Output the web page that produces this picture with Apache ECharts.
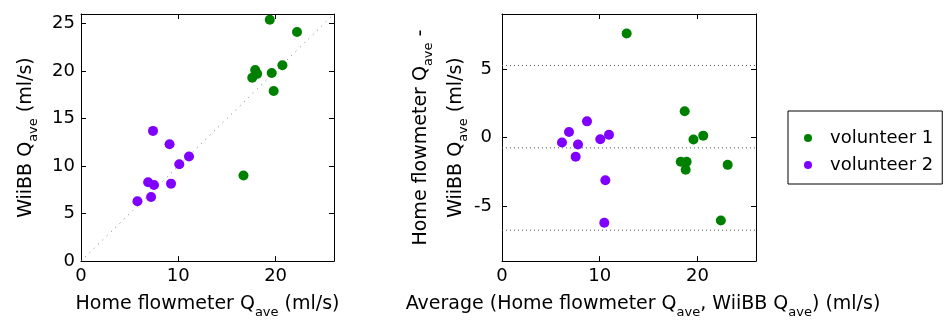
<!DOCTYPE html>
<html><head><meta charset="utf-8">
<script src="https://cdn.jsdelivr.net/npm/echarts@6/dist/echarts.min.js"></script>
<style>html,body{margin:0;padding:0;background:#fff}#c{width:944px;height:324px}</style>
</head><body><div id="c"></div>
<script>
// ---- data ----
const vol1Home  = [19.4, 22.2, 20.7, 17.9, 18.1, 17.6, 19.6, 19.8, 16.7];
const vol1WiiBB = [25.4, 24.1, 20.6, 20.1, 19.7, 19.3, 19.8, 17.9, 9.0];
const vol2Home  = [7.4, 9.1, 11.1, 10.1, 6.9, 7.5, 9.25, 7.2, 5.8];
const vol2WiiBB = [13.7, 12.3, 11.0, 10.2, 8.3, 8.0, 8.15, 6.75, 6.3];
const vol1Avg   = [12.76, 18.7, 19.6, 20.6, 18.3, 18.9, 18.8, 23.1, 22.4];
const vol1Diff  = [7.58, 1.92, -0.14, 0.14, -1.76, -1.76, -2.35, -1.99, -6.04];
const vol2Avg   = [6.14, 6.86, 7.54, 7.78, 8.7, 10.06, 10.95, 10.58, 10.47];
const vol2Diff  = [-0.36, 0.40, -1.40, -0.50, 1.18, -0.12, 0.21, -3.11, -6.21];
const meanDiff = -0.75, upperLoA = 5.25, lowerLoA = -6.75;
const identityLine = [[0, 0], [26, 26]];
const seriesNames = ['volunteer 1', 'volunteer 2'];
const xTicks = [0, 10, 20];
const yTicksLeft = [0, 5, 10, 15, 20, 25];
const yTicksRight = [-5, 0, 5];
const xRange = [0, 26], yRangeLeft = [0, 26], yRangeRight = [-9, 9];

const FONT = 'DejaVu Sans';
const GREEN = '#008000', PURPLE = '#8000ff';
const rich = {
  m: {fontSize: 19, fontFamily: FONT, color: '#000', lineHeight: 22},
  s: {fontSize: 13, fontFamily: FONT, color: '#000', lineHeight: 14, padding: [16, 0, 0, 0]}
};
const rich2 = {
  m: {fontSize: 19, fontFamily: FONT, color: '#000', lineHeight: 35},
  s: {fontSize: 13, fontFamily: FONT, color: '#000', lineHeight: 14, padding: [16, 0, 0, 0]}
};
function zip(a, b) { return a.map((v, i) => [v, b[i]]); }
function baseAxis(grid, pos, range, ticks, show) {
  return {
    type: 'value', gridIndex: grid, position: pos, min: range[0], max: range[1],
    axisLine: {show: true, onZero: false, lineStyle: {color: '#000', width: 1}},
    axisTick: {show: true, inside: true, length: 5, customValues: ticks, lineStyle: {color: '#000'}},
    axisLabel: {show: show, customValues: ticks, fontSize: 18, fontFamily: FONT, color: '#000', margin: 6},
    splitLine: {show: false}
  };
}
const xL = baseAxis(0, 'bottom', xRange, xTicks, true);
xL.name = '{m|Home flowmeter Q}{s|ave}{m| (ml/s)}';
xL.nameLocation = 'middle'; xL.nameGap = 24; xL.nameTextStyle = {rich};
const xR = baseAxis(1, 'bottom', xRange, xTicks, true);
xR.name = '{m|Average (Home flowmeter Q}{s|ave}{m|, WiiBB Q}{s|ave}{m|) (ml/s)}';
xR.nameLocation = 'middle'; xR.nameGap = 24; xR.nameTextStyle = {rich, padding: [0, 0, 0, 28]};
const yL = baseAxis(0, 'left', yRangeLeft, yTicksLeft, true);
yL.name = '{m|WiiBB Q}{s|ave}{m| (ml/s)}';
yL.nameLocation = 'middle'; yL.nameRotate = 90; yL.nameGap = 44; yL.nameTextStyle = {rich};
const yR = baseAxis(1, 'left', yRangeRight, yTicksRight, true);
yR.axisLabel.margin = 10;
yR.name = '{m|Home flowmeter Q}{s|ave}{m| -}\n{m|WiiBB Q}{s|ave}{m| (ml/s)}';
yR.nameLocation = 'middle'; yR.nameRotate = 90; yR.nameGap = 23; yR.nameTextStyle = {rich: rich2};

const dotted = (data, xi, yi, color, dash) => ({
  type: 'line', xAxisIndex: xi, yAxisIndex: yi, data, symbol: 'none', silent: true,
  lineStyle: {color, width: 1, type: dash}, z: 1
});
const scatter = (name, data, xi, yi, color) => ({
  type: 'scatter', name, data, xAxisIndex: xi, yAxisIndex: yi, symbolSize: 10,
  itemStyle: {color, opacity: 1}, z: 3
});

const chart = echarts.init(document.getElementById('c'), null, {renderer: 'canvas'});
chart.setOption({
  animation: false,
  backgroundColor: '#fff',
  grid: [
    {left: 81, top: 14, width: 253, height: 253},
    {left: 502, top: 14, width: 254, height: 253}
  ],
  xAxis: [xL, xR, baseAxis(0, 'top', xRange, xTicks, false), baseAxis(1, 'top', xRange, xTicks, false)],
  yAxis: [yL, yR, baseAxis(0, 'right', yRangeLeft, yTicksLeft, false), baseAxis(1, 'right', yRangeRight, yTicksRight, false)],
  legend: {
    data: seriesNames, orient: 'vertical', left: 788, top: 111,
    icon: 'circle', itemWidth: 34, itemHeight: 8, itemGap: 9,
    padding: [18, 9, 10, 16], borderColor: '#000', borderWidth: 1, borderRadius: 0,
    backgroundColor: '#fff',
    itemStyle: {opacity: 1},
    textStyle: {fontSize: 18, fontFamily: FONT, color: '#000'}
  },
  series: [
    dotted(identityLine, 0, 0, '#777', [1, 5]),
    dotted([[xRange[0], upperLoA], [xRange[1], upperLoA]], 1, 1, '#555', [1, 3]),
    dotted([[xRange[0], meanDiff], [xRange[1], meanDiff]], 1, 1, '#555', [1, 3]),
    dotted([[xRange[0], lowerLoA], [xRange[1], lowerLoA]], 1, 1, '#555', [1, 3]),
    scatter(seriesNames[0], zip(vol1Home, vol1WiiBB), 0, 0, GREEN),
    scatter(seriesNames[1], zip(vol2Home, vol2WiiBB), 0, 0, PURPLE),
    scatter(seriesNames[0], zip(vol1Avg, vol1Diff), 1, 1, GREEN),
    scatter(seriesNames[1], zip(vol2Avg, vol2Diff), 1, 1, PURPLE)
  ]
});
</script></body></html>
